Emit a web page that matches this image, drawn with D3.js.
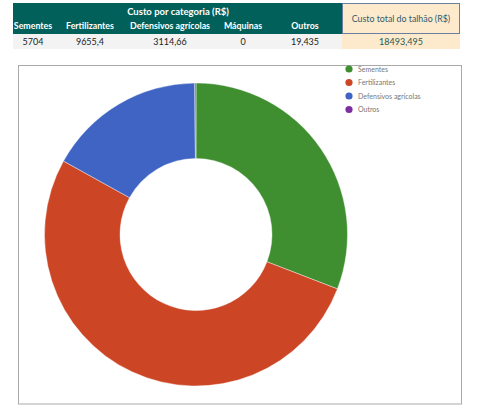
<!DOCTYPE html>
<html>
<head>
<meta charset="utf-8">
<script src="https://cdn.jsdelivr.net/npm/d3@7"></script>
<style>
  body { margin: 0; background: #fff; }
  svg { display: block; }
</style>
</head>
<body>
<svg id="chart" width="480" height="410"></svg>
<script>
const categorias = ["Sementes", "Fertilizantes", "Defensivos agrícolas", "Máquinas", "Outros"];
const custos = [5704, 9655.4, 3114.66, 0, 19.435];
const custosTexto = ["5704", "9655,4", "3114,66", "0", "19,435"];
const totalTexto = "18493,495";

// a legenda deixa de fora as categorias com zero
const legendaCategorias = ["Sementes", "Fertilizantes", "Defensivos agrícolas", "Outros"];
const cores = {
  "Sementes": "#3f8f30",
  "Fertilizantes": "#cc4626",
  "Defensivos agrícolas": "#4064c3",
  "Máquinas": "#999999",
  "Outros": "#7d2ea0"
};

const svg = d3.select("#chart");
const font = "Lato, 'Open Sans', sans-serif";

// ---- tabela do topo ----
const colPos = {"Sementes": 33, "Fertilizantes": 90, "Defensivos agrícolas": 170, "Máquinas": 243, "Outros": 305};

svg.append("rect").attr("x", 13).attr("y", 3).attr("width", 329).attr("height", 31).attr("fill", "#02605b");
svg.append("rect").attr("x", 13).attr("y", 34).attr("width", 329).attr("height", 15).attr("fill", "#f3f3f3");
svg.append("rect").attr("x", 342).attr("y", 34).attr("width", 118).attr("height", 15).attr("fill", "#fde9cb");
svg.append("rect").attr("x", 342.5).attr("y", 3.5).attr("width", 117).attr("height", 30)
  .attr("fill", "#fde9cb").attr("stroke", "#6b7fa0").attr("stroke-width", 1);

svg.append("text").attr("x", 178).attr("y", 15).attr("text-anchor", "middle")
  .attr("font-family", font).attr("font-weight", "bold").attr("font-size", 9.5)
  .attr("fill", "#fff").text("Custo por categoria (R$)");

svg.append("g").selectAll("text").data(categorias).join("text")
  .attr("x", d => colPos[d]).attr("y", 29).attr("text-anchor", "middle")
  .attr("font-family", font).attr("font-weight", "bold").attr("font-size", 8.8)
  .attr("fill", "#fff").text(d => d);

svg.append("g").selectAll("text").data(custosTexto).join("text")
  .attr("x", (d, i) => colPos[categorias[i]]).attr("y", 45).attr("text-anchor", "middle")
  .attr("font-family", font).attr("font-size", 9).attr("fill", "#222").text(d => d);

svg.append("text").attr("x", 401).attr("y", 22).attr("text-anchor", "middle")
  .attr("font-family", font).attr("font-size", 8.8).attr("fill", "#2e5c6e")
  .text("Custo total do talhão (R$)");
svg.append("text").attr("x", 401).attr("y", 45).attr("text-anchor", "middle")
  .attr("font-family", font).attr("font-size", 9).attr("fill", "#1f5a55")
  .text(totalTexto);

// ---- area do grafico ----
svg.append("rect").attr("x", 18.5).attr("y", 65.5).attr("width", 443).attr("height", 338.5)
  .attr("fill", "#fff").attr("stroke", "#aaa").attr("stroke-width", 1);

const cx = 196, cy = 234.5, rOuter = 151.5, rInner = 76;

const pie = d3.pie().sort(null).value(d => d.v);
const arcs = pie(categorias.map((c, i) => ({c: c, v: custos[i]})));
const arc = d3.arc().innerRadius(rInner).outerRadius(rOuter);

svg.append("g").attr("transform", `translate(${cx},${cy})`)
  .selectAll("path").data(arcs).join("path")
  .attr("d", arc)
  .attr("fill", d => cores[d.data.c])
  .attr("stroke", "#fff").attr("stroke-width", 0.4);

// legenda
const leg = svg.append("g").selectAll("g").data(legendaCategorias).join("g")
  .attr("transform", (d, i) => `translate(349,${69 + i * 13.5})`);
leg.append("circle").attr("r", 3.6).attr("fill", d => cores[d]);
leg.append("text").attr("x", 9).attr("y", 2.5)
  .attr("font-family", font).attr("font-size", 7).attr("fill", "#777").text(d => d);
</script>
</body>
</html>
